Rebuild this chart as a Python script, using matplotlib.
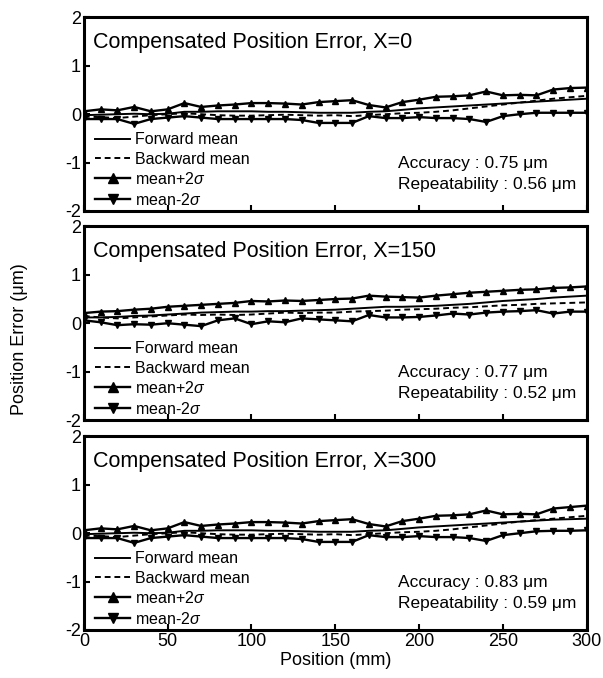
import matplotlib
matplotlib.use("Agg")
import matplotlib.pyplot as plt
import numpy as np

plt.rcParams['font.family'] = ['Liberation Sans', 'DejaVu Sans']
plt.rcParams['axes.unicode_minus'] = False
plt.rcParams['mathtext.fontset'] = 'custom'
plt.rcParams['mathtext.rm'] = 'Liberation Sans'
plt.rcParams['mathtext.it'] = 'Liberation Sans:italic'

position = list(range(0, 301, 10))

# Panel 1 (X=0)
U1 = [0.06, 0.10, 0.08, 0.15, 0.06, 0.10, 0.23, 0.15, 0.18, 0.20, 0.23, 0.23, 0.22, 0.20, 0.25, 0.27,
      0.29, 0.19, 0.14, 0.25, 0.30, 0.36, 0.37, 0.39, 0.47, 0.39, 0.40, 0.39, 0.51, 0.54, 0.55]
L1 = [-0.10, -0.10, -0.10, -0.20, -0.10, -0.07, -0.04, -0.07, -0.10, -0.10, -0.10, -0.10, -0.10, -0.12, -0.18, -0.18,
      -0.18, -0.04, -0.08, -0.08, -0.06, -0.08, -0.08, -0.10, -0.16, -0.04, 0.00, 0.03, 0.03, 0.03, 0.03]
F1 = [-0.02, -0.01, 0.00, 0.01, 0.00, 0.01, 0.05, 0.05, 0.06, 0.06, 0.06, 0.05, 0.05, 0.04, 0.03, 0.03,
      0.03, 0.05, 0.06, 0.09, 0.12, 0.14, 0.16, 0.18, 0.20, 0.22, 0.24, 0.26, 0.28, 0.30, 0.32]
B1 = [-0.05, -0.06, -0.08, -0.05, -0.02, 0.00, 0.02, 0.00, -0.02, -0.03, -0.03, -0.02, -0.01, -0.02, -0.03, -0.02,
      -0.04, -0.02, 0.00, 0.02, 0.03, 0.05, 0.08, 0.12, 0.16, 0.20, 0.24, 0.28, 0.32, 0.35, 0.38]

# Panel 2 (X=150)
U2 = [0.21, 0.24, 0.25, 0.28, 0.30, 0.34, 0.36, 0.38, 0.40, 0.42, 0.46, 0.45, 0.47, 0.46, 0.48, 0.50,
      0.51, 0.57, 0.55, 0.54, 0.53, 0.57, 0.60, 0.63, 0.65, 0.67, 0.69, 0.70, 0.73, 0.74, 0.76]
L2 = [0.06, 0.02, -0.04, -0.02, -0.03, 0.00, -0.03, -0.06, 0.06, 0.10, -0.02, 0.04, 0.02, 0.10, 0.08, 0.06,
      0.04, 0.17, 0.12, 0.12, 0.13, 0.16, 0.20, 0.18, 0.22, 0.24, 0.25, 0.27, 0.20, 0.24, 0.24]
F2 = [0.12, 0.12, 0.13, 0.15, 0.16, 0.18, 0.20, 0.22, 0.23, 0.24, 0.24, 0.25, 0.25, 0.26, 0.27, 0.28,
      0.30, 0.32, 0.34, 0.34, 0.35, 0.36, 0.38, 0.40, 0.43, 0.46, 0.48, 0.50, 0.53, 0.55, 0.57]
B2 = [0.15, 0.12, 0.10, 0.12, 0.14, 0.16, 0.18, 0.17, 0.18, 0.17, 0.18, 0.20, 0.22, 0.21, 0.22, 0.22,
      0.24, 0.25, 0.26, 0.28, 0.29, 0.30, 0.32, 0.33, 0.35, 0.37, 0.38, 0.40, 0.41, 0.42, 0.43]

# Panel 3 (X=300)
U3 = [0.06, 0.10, 0.08, 0.15, 0.06, 0.10, 0.23, 0.15, 0.18, 0.20, 0.23, 0.23, 0.22, 0.20, 0.25, 0.27,
      0.29, 0.19, 0.14, 0.25, 0.30, 0.36, 0.37, 0.39, 0.47, 0.39, 0.40, 0.39, 0.51, 0.54, 0.57]
L3 = [-0.10, -0.10, -0.10, -0.20, -0.10, -0.07, -0.04, -0.07, -0.10, -0.10, -0.10, -0.10, -0.10, -0.12, -0.18, -0.18,
      -0.18, -0.04, -0.08, -0.08, -0.06, -0.08, -0.08, -0.10, -0.16, -0.04, 0.00, 0.04, 0.05, 0.05, 0.06]
F3 = [-0.02, -0.01, 0.00, 0.01, 0.00, 0.01, 0.05, 0.05, 0.06, 0.06, 0.06, 0.05, 0.05, 0.04, 0.03, 0.03,
      0.03, 0.05, 0.06, 0.09, 0.12, 0.14, 0.16, 0.18, 0.20, 0.22, 0.24, 0.26, 0.28, 0.29, 0.30]
B3 = [-0.05, -0.06, -0.08, -0.05, -0.02, 0.00, 0.02, 0.00, -0.02, -0.03, -0.03, -0.02, -0.01, -0.02, -0.03, -0.02,
      -0.04, -0.02, 0.00, 0.02, 0.03, 0.05, 0.08, 0.12, 0.16, 0.20, 0.24, 0.27, 0.30, 0.33, 0.36]

titles = ["Compensated Position Error, X=0",
          "Compensated Position Error, X=150",
          "Compensated Position Error, X=300"]
accuracy = ["0.75", "0.77", "0.83"]
repeatability = ["0.56", "0.52", "0.59"]
legend_labels = ["Forward mean", "Backward mean", "mean+2$\\sigma$", "mean-2$\\sigma$"]
xticks = [0, 50, 100, 150, 200, 250, 300]
yticks = [-2, -1, 0, 1, 2]

panels = [(U1, L1, F1, B1), (U2, L2, F2, B2), (U3, L3, F3, B3)]

fig = plt.figure(figsize=(6.03, 6.78), dpi=100)
left, width = 0.139, 0.834
bottoms = [0.6888, 0.3805, 0.0708]
height = 0.2855

for i, (U, L, F, B) in enumerate(panels):
    ax = fig.add_axes([left, bottoms[i], width, height])
    hf, = ax.plot(position, F, color='black', lw=1.4, label=legend_labels[0])
    hb, = ax.plot(position, B, color='black', lw=1.4, ls=(0, (3, 2)), label=legend_labels[1])
    hu, = ax.plot(position, U, color='black', lw=1.7, marker='^', ms=5, label=legend_labels[2])
    hl, = ax.plot(position, L, color='black', lw=1.7, marker='v', ms=5, label=legend_labels[3])
    ax.set_xlim(0, 300)
    ax.set_ylim(-2, 2)
    ax.set_xticks(xticks)
    ax.set_yticks(yticks)
    ax.tick_params(direction='in', length=4, width=1.5, labelsize=13, pad=2,
                   top=False, right=False)
    if i < 2:
        ax.set_xticklabels([])
    for s in ax.spines.values():
        s.set_linewidth(2.2)
    ax.text(0.018, 0.87, titles[i], transform=ax.transAxes, fontsize=15.5, va='center', ha='left')
    ax.text(0.625, 0.245, f"Accuracy : {accuracy[i]} \u03bcm", transform=ax.transAxes,
            fontsize=12.5, va='center', ha='left')
    ax.text(0.625, 0.135, f"Repeatability : {repeatability[i]} \u03bcm", transform=ax.transAxes,
            fontsize=12.5, va='center', ha='left')
    ax.legend(handles=[hf, hb, hu, hl], loc='lower left', bbox_to_anchor=(0.01, -0.015),
              frameon=False, fontsize=11.5, handlelength=2.2, handletextpad=0.3,
              labelspacing=0.28, borderaxespad=0.2, borderpad=0.2, markerscale=1.3)

fig.text(0.033, 0.5, "Position Error (\u03bcm)", rotation=90, va='center', ha='center', fontsize=13)
fig.text(0.556, 0.026, "Position (mm)", va='center', ha='center', fontsize=13)

fig.savefig("out.png", dpi=100)
